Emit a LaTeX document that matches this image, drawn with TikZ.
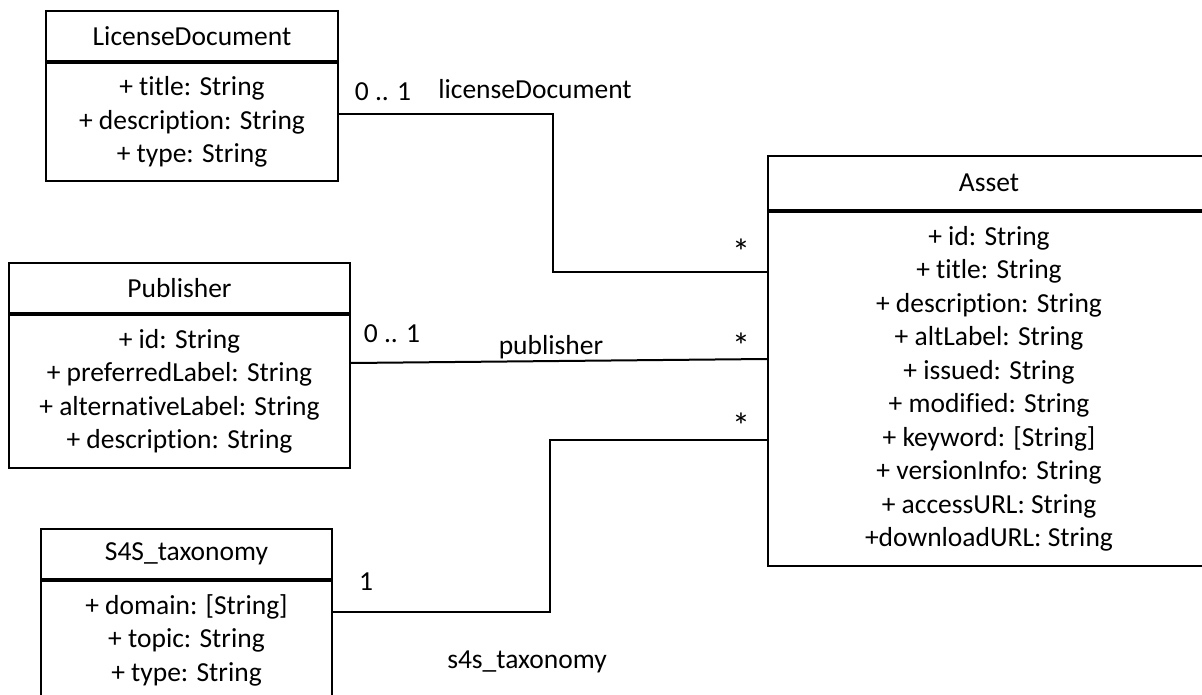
\documentclass[tikz,border=0pt]{standalone}
\usepackage{fontspec}
\setmainfont[Ligatures=NoCommon]{Carlito}
\usetikzlibrary{positioning,calc}

\begin{document}
\begin{tikzpicture}[x=1pt,y=-1pt]
  \tikzstyle{box} = [draw, line width=2pt, anchor=north west, inner sep=0pt, align=center]
  \tikzstyle{assoc} = [draw, line width=2pt]
  \tikzstyle{lbl} = [inner sep=0pt]
  \tikzstyle{many} = [inner sep=0pt, font=\fontsize{36}{36}\selectfont]
  \fontsize{27.5}{33.5}\selectfont
  \useasboundingbox (0,0) rectangle (1202,695);

  % classes
  \node[box, minimum width=292, minimum height=50] (lichead) at (45,10) {LicenseDocument};
  \node[box, minimum width=292, minimum height=118] (licbody) at (lichead.south west)
    {+ title: String\\+ description: String\\+ type: String};

  \node[box, minimum width=341, minimum height=50] (pubhead) at (8,262) {Publisher};
  \node[box, minimum width=341, minimum height=153] (pubbody) at (pubhead.south west)
    {+ id: String\\+ preferredLabel: String\\+ alternativeLabel: String\\+ description: String};

  \node[box, minimum width=291, minimum height=50] (taxhead) at (40,528) {S4S\_taxonomy};
  \node[box, minimum width=291, minimum height=118] (taxbody) at (taxhead.south west)
    {+ domain: [String]\\+ topic: String\\+ type: String};

  \node[box, minimum width=442, minimum height=54] (assethead) at (767,155) {Asset};
  \node[box, minimum width=442, minimum height=354] (assetbody) at (assethead.south west)
    {+ id: String\\+ title: String\\+ description: String\\+ altLabel: String\\+ issued: String\\
     + modified: String\\+ keyword: [String]\\+ versionInfo: String\\+ accessURL: String\\+downloadURL: String};

  % connector ends
  \coordinate (ld) at (licbody.east |- 0,114);
  \coordinate (pb) at (pubbody.east |- 0,363);
  \coordinate (tx) at (taxbody.east |- 0,612);
  \coordinate (a1) at (assetbody.west |- 0,272);
  \coordinate (a2) at (assetbody.west |- 0,359);
  \coordinate (a3) at (assetbody.west |- 0,440);

  \path [assoc] (ld) -| ($(ld)!.5!(a1)$) |- (a1);
  \path [assoc] (pb) -- (a2);
  \path [assoc] (tx) -| ($(tx)!.5!(a3)$) |- (a3);

  % multiplicities and roles
  \node[lbl] (m1) at (383,92) {0 .. 1};
  \node[lbl] (r1) at (535,89) {licenseDocument};
  \node[many] (s1) at (741,252) {*};
  \node[lbl] (m2) at (392,334) {0 .. 1};
  \node[lbl] (r2) at (551,347) {publisher};
  \node[many] (s2) at (741,346) {*};
  \node[lbl] (m3) at (366,582) {1};
  \node[lbl] (r3) at (527,662) {s4s\_taxonomy};
  \node[many] (s3) at (741,426) {*};
\end{tikzpicture}
\end{document}
